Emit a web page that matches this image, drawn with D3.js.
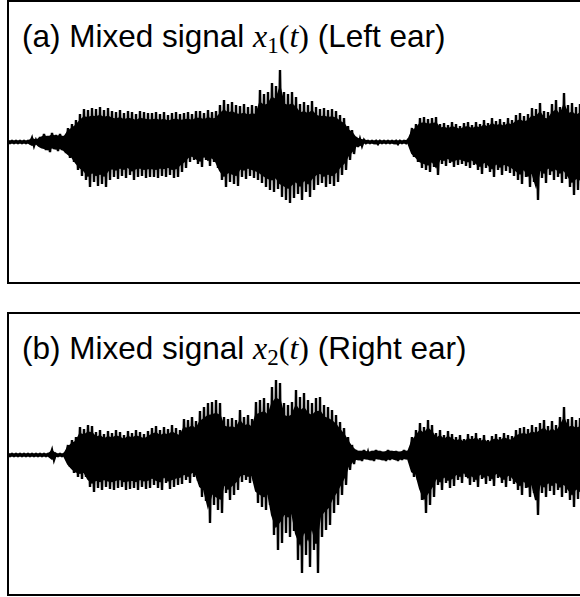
<!DOCTYPE html>
<html>
<head>
<meta charset="utf-8">
<script src="https://cdn.jsdelivr.net/npm/d3@7"></script>
<style>
  body { margin: 0; background: #fff; }
  svg { display: block; }
</style>
</head>
<body>
<svg id="chart" width="580" height="597"></svg>
<script>
// peak envelopes, one pair per short time slot (arbitrary amplitude units)
var leftHi = [1,1,1,1,1,1,4,2,5,8,6,9,7,8,6,14,18,22,28,33,
  32,34,33,35,32,34,31,30,32,29,31,30,28,31,30,29,29,30,28,30,27,29,30,28,
  29,30,28,31,31,29,32,30,31,37,42,38,40,37,36,38,35,37,36,52,48,50,59,56,72,50,48,50,
  45,38,40,37,41,35,33,34,32,33,31,27,24,16,12,5,3,
  2,1,1,1,1,1,1,1,1,1,1,2,14,18,24,25,23,24,
  25,18,19,17,20,18,16,19,20,17,20,18,22,19,24,21,23,20,24,22,
  27,29,26,28,34,33,39,31,30,38,42,35,49,37,39,35,38]
var leftLo = [-1,-1,-1,-1,-1,-1,-4,-2,-6,-8,-10,-7,-9,-8,-11,-16,-20,-28,-34,-38,
  -45,-40,-44,-42,-45,-38,-35,-37,-34,-36,-33,-38,-35,-34,-36,-35,-35,-36,-34,-35,-33,-36,-35,-30,
  -26,-20,-18,-22,-25,-18,-24,-20,-26,-38,-45,-40,-42,-44,-35,-37,-34,-36,-38,-41,-45,-48,-50,-47,-55,-58,-61,-56,
  -52,-58,-50,-55,-48,-43,-41,-45,-42,-44,-40,-33,-28,-18,-12,-5,-4,
  -1,-1,-1,-2,-1,-1,-1,-1,-2,-1,-1,-1,-15,-20,-26,-28,-30,-25,
  -33,-22,-24,-21,-25,-23,-22,-24,-26,-23,-28,-32,-26,-30,-35,-28,-33,-29,-31,-34,
  -38,-42,-35,-45,-40,-58,-36,-41,-33,-38,-35,-41,-37,-45,-53,-48,-50]
var rightHi = [1,1,1,1,1,1,1,1,1,1,1,5,1,1,1,10,15,18,28,26,30,29,
  23,25,21,24,22,25,23,20,24,22,25,23,21,24,
  27,29,25,28,26,30,27,25,36,35,38,34,44,48,52,53,55,52,38,36,37,35,
  45,38,40,36,53,55,57,52,68,75,72,52,50,53,
  65,58,62,55,52,57,58,50,48,45,40,33,27,18,10,
  5,4,5,3,4,5,4,3,5,4,4,3,5,4,18,25,32,28,35,30,
  22,25,20,24,21,18,20,16,21,19,22,17,20,15,19,21,18,22,20,19,
  25,27,28,26,30,28,32,35,29,34,30,38,48,36,38,35,37]
var rightLo = [-1,-1,-1,-1,-1,-1,-1,-1,-1,-1,-1,-5,-1,-1,-1,-12,-18,-22,-24,-22,-32,-37,
  -33,-35,-32,-34,-35,-33,-32,-35,-34,-33,-35,-32,-34,-33,
  -30,-33,-35,-28,-34,-32,-30,-29,-25,-28,-22,-26,-42,-46,-68,-50,-55,-58,-38,-45,-40,-35,
  -27,-25,-28,-26,-48,-52,-55,-50,-80,-95,-88,-78,-82,-76,
  -105,-118,-100,-112,-95,-118,-82,-75,-70,-58,-50,-40,-30,-15,-9,
  -5,-6,-4,-5,-6,-4,-5,-6,-5,-4,-6,-5,-4,-5,-22,-25,-45,-58,-50,-42,
  -30,-35,-28,-33,-31,-25,-28,-22,-30,-27,-32,-24,-29,-26,-31,-23,-28,-32,-26,-29,
  -35,-40,-33,-42,-38,-60,-38,-42,-36,-40,-35,-42,-38,-45,-52,-44,-48]

var panels = [
  {tag: "(a)", sub: "1", ear: "Left ear", hi: leftHi, lo: leftLo},
  {tag: "(b)", sub: "2", ear: "Right ear", hi: rightHi, lo: rightLo}
]
var serif = "Liberation Serif, Times New Roman, serif"
var core = 0.75 // share of each peak that is solid black

function drawPanel(svg, p, top, base) {
  var g = svg.append("g")
  var x = d3.scaleLinear().domain([0, p.hi.length - 1]).range([8, 580])
  var y = d3.scaleLinear().domain([-141, 141]).range([base + 141, base - 141])

  g.append("rect")
    .attr("x", 8).attr("y", top)
    .attr("width", 620).attr("height", 282)
    .attr("fill", "none").attr("stroke", "#000").attr("stroke-width", 2)

  // solid body of the waveform
  var area = d3.area()
    .x(function(d, i) { return x(i) })
    .y0(function(d, i) { return y(p.lo[i] * core) })
    .y1(function(d) { return y(d * core) })
  g.append("path")
    .attr("d", area(p.hi))
    .attr("fill", "#000")
    .attr("stroke", "#000")
    .attr("stroke-width", 2)

  // zigzag between upper and lower peaks for the spiky edge
  var pts = []
  p.hi.forEach(function(v, i) {
    pts.push([i, v])
    pts.push([i + 0.5, p.lo[i]])
  })
  var line = d3.line().x(function(d) { return x(d[0]) }).y(function(d) { return y(d[1]) })
  g.append("path")
    .attr("d", line(pts))
    .attr("fill", "none")
    .attr("stroke", "#000")
    .attr("stroke-width", 2.4)

  var t = g.append("text")
    .attr("x", 22).attr("y", top + 46)
    .attr("font-family", "Liberation Sans, Arial, sans-serif")
    .attr("font-size", 31.5)
    .attr("fill", "#000")
  t.append("tspan").text(p.tag + " Mixed signal ")
  t.append("tspan").attr("font-family", serif)
    .attr("font-style", "italic").attr("font-size", 32).text("x")
  t.append("tspan").attr("font-family", serif)
    .attr("font-size", 23).attr("dy", 6).text(p.sub)
  t.append("tspan").attr("font-family", serif)
    .attr("font-size", 32).attr("dy", -6).text("(")
  t.append("tspan").attr("font-family", serif)
    .attr("font-style", "italic").attr("font-size", 32).text("t")
  t.append("tspan").attr("font-family", serif)
    .attr("font-size", 32).text(")")
  t.append("tspan").text(" (" + p.ear + ")")
}

var svg = d3.select("#chart")
drawPanel(svg, panels[0], 1, 142)
drawPanel(svg, panels[1], 313, 455)
</script>
</body>
</html>
